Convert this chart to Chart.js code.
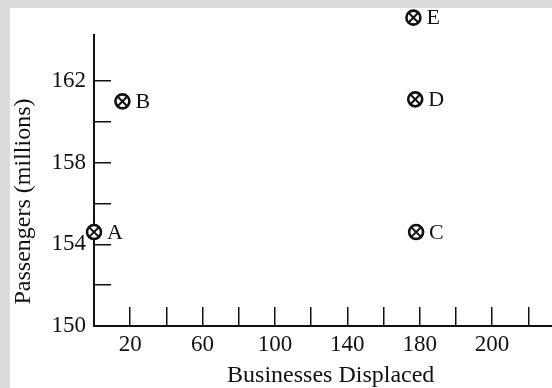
<!DOCTYPE html>
<html>
<head>
<meta charset="utf-8">
<script src="https://cdn.jsdelivr.net/npm/chart.js@4"></script>
<style>
  html, body { margin: 0; padding: 0; }
  body { width: 552px; height: 388px; overflow: hidden; background: #dcdcdc; position: relative; }
  #wrap { position: absolute; left: 10px; top: 8px; width: 567px; height: 380px; background: #fff; }
</style>
</head>
<body>
<div id="wrap"><canvas id="chart" width="567" height="380"></canvas></div>
<script>
// Data
var pointNames = ['A', 'B', 'C', 'D', 'E'];
var businesses = [0, 15.7, 178, 177.5, 176.5];
var passengers = [154.6, 161.0, 154.6, 161.1, 165.1];

// Axis ticks
var xTickValues = [20, 40, 60, 80, 100, 120, 140, 160, 180, 200, 220, 240];
var xLabelTicks = [20, 60, 100, 140, 180, 220];
var xLabelText = ['20', '60', '100', '140', '180', '200'];
var yTickValues = [152, 154, 156, 158, 160, 162];
var yLabelTicks = [150, 154, 158, 162];

var ink = '#111';
var serif = '"Liberation Serif", "Times New Roman", serif';

var points = businesses.map(function (x, i) {
    return { x: x, y: passengers[i] };
});

// Draws points that sit above the axis top (E) and the letter next to each point
var pointLabels = {
    id: 'pointLabels',
    afterDatasetsDraw: function (chart) {
        var ctx = chart.ctx;
        var area = chart.chartArea;
        [1, 0].forEach(function (d) {
            chart.getDatasetMeta(d).data.forEach(function (pt) {
                if (pt.y < area.top - 3) pt.draw(ctx);
            });
        });
        var meta = chart.getDatasetMeta(1);
        ctx.save();
        ctx.fillStyle = ink;
        ctx.font = '22px ' + serif;
        ctx.textBaseline = 'middle';
        ctx.textAlign = 'left';
        meta.data.forEach(function (pt, i) {
            ctx.fillText(pointNames[i], pt.x + 13, pt.y + 1);
        });
        ctx.restore();
    }
};

var ctx = document.getElementById('chart').getContext('2d');
var chart = new Chart(ctx, {
    type: 'scatter',
    data: {
        datasets: [{
            data: points,
            pointStyle: 'crossRot',
            pointRadius: 6.5,
            borderColor: ink,
            borderWidth: 2,
            clip: false
        }, {
            data: points,
            pointStyle: 'circle',
            pointRadius: 7,
            borderColor: ink,
            backgroundColor: '#fff',
            borderWidth: 2.6,
            clip: false
        }]
    },
    options: {
        responsive: false,
        animation: false,
        layout: { padding: { top: 27, left: 0, right: 0, bottom: 0 } },
        plugins: {
            legend: { display: false },
            tooltip: { enabled: false }
        },
        scales: {
            x: {
                type: 'linear',
                min: 0,
                max: 261.6,
                afterBuildTicks: function (scale) {
                    scale.ticks = xTickValues.map(function (v) { return { value: v }; });
                },
                afterFit: function (scale) {
                    scale.height = 62;
                    scale.paddingLeft = 0;
                    scale.paddingRight = 0;
                },
                ticks: {
                    autoSkip: false,
                    maxRotation: 0,
                    minRotation: 0,
                    padding: 24,
                    color: ink,
                    font: { family: serif, size: 23 },
                    callback: function (value) {
                        var k = xLabelTicks.indexOf(value);
                        return k >= 0 ? xLabelText[k] : '';
                    }
                },
                grid: {
                    drawOnChartArea: false,
                    drawTicks: true,
                    tickLength: -19,
                    color: ink,
                    lineWidth: 1.5
                },
                border: { color: ink, width: 2 },
                title: {
                    display: true,
                    text: 'Businesses Displaced',
                    color: ink,
                    font: { family: serif, size: 24, lineHeight: 1 },
                    padding: { top: 0, bottom: 0 }
                }
            },
            y: {
                type: 'linear',
                min: 150,
                max: 164.25,
                afterBuildTicks: function (scale) {
                    scale.ticks = [150].concat(yTickValues).map(function (v) { return { value: v }; });
                },
                afterFit: function (scale) {
                    scale.width = 84;
                    scale.paddingTop = 0;
                    scale.paddingBottom = 0;
                },
                ticks: {
                    padding: 25,
                    color: ink,
                    font: { family: serif, size: 23 },
                    callback: function (value) {
                        return yLabelTicks.indexOf(value) >= 0 ? String(value) : '';
                    }
                },
                grid: {
                    drawOnChartArea: false,
                    drawTicks: true,
                    tickLength: -17,
                    color: ink,
                    lineWidth: 1.5
                },
                border: { color: ink, width: 2 },
                title: {
                    display: true,
                    text: 'Passengers (millions)       ',
                    color: ink,
                    font: { family: serif, size: 24, lineHeight: 1 },
                    padding: { top: 2, bottom: 0 }
                }
            }
        }
    },
    plugins: [pointLabels]
});
</script>
</body>
</html>
